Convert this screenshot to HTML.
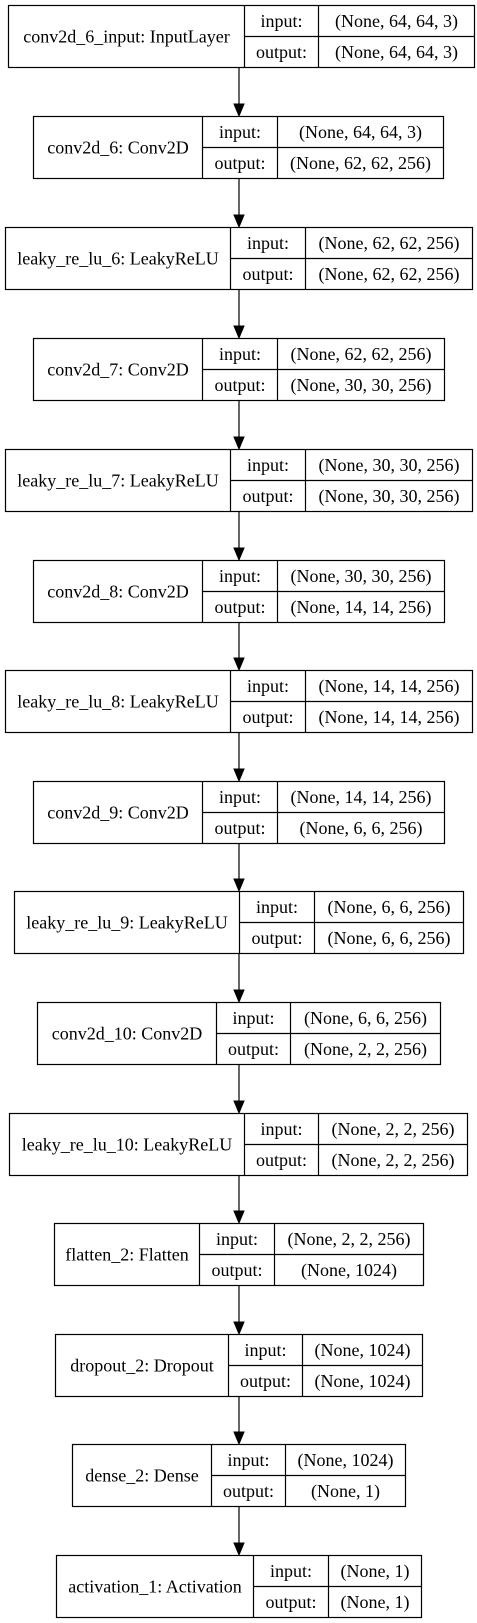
<!DOCTYPE html>
<html><head><meta charset="utf-8"><style>
html,body{margin:0;padding:0;background:#fff;}
svg{display:block;}
text{font-family:"Liberation Serif","Times New Roman",serif;font-size:18px;fill:#000;}
</style></head><body>
<svg id="g" width="477" height="1623" viewBox="0 0 477 1623"></svg>
<script>
const layerNames=["conv2d_6_input: InputLayer","conv2d_6: Conv2D","leaky_re_lu_6: LeakyReLU","conv2d_7: Conv2D","leaky_re_lu_7: LeakyReLU","conv2d_8: Conv2D","leaky_re_lu_8: LeakyReLU","conv2d_9: Conv2D","leaky_re_lu_9: LeakyReLU","conv2d_10: Conv2D","leaky_re_lu_10: LeakyReLU","flatten_2: Flatten","dropout_2: Dropout","dense_2: Dense","activation_1: Activation"];
const inputShapes=["(None, 64, 64, 3)","(None, 64, 64, 3)","(None, 62, 62, 256)","(None, 62, 62, 256)","(None, 30, 30, 256)","(None, 30, 30, 256)","(None, 14, 14, 256)","(None, 14, 14, 256)","(None, 6, 6, 256)","(None, 6, 6, 256)","(None, 2, 2, 256)","(None, 2, 2, 256)","(None, 1024)","(None, 1024)","(None, 1)"];
const outputShapes=["(None, 64, 64, 3)","(None, 62, 62, 256)","(None, 62, 62, 256)","(None, 30, 30, 256)","(None, 30, 30, 256)","(None, 14, 14, 256)","(None, 14, 14, 256)","(None, 6, 6, 256)","(None, 6, 6, 256)","(None, 2, 2, 256)","(None, 2, 2, 256)","(None, 1024)","(None, 1024)","(None, 1)","(None, 1)"];
// layout (pixels)
const boxTop=[5,116,227,338,449,560,670,781,891,1002,1113,1223,1334,1444,1555];
const boxLeft=[8,33,5,33,5,33,5,33,14,37,9,54,55,72,56];
const boxRight=[474,443,472,444,472,444,472,444,463,440,467,423,422,405,421];
const div1=[244,202,230,202,230,202,230,202,239,216,244,199,228,211,253];
const div2=[318,277,305,277,305,277,305,277,314,290,318,274,302,285,328];
const H=62, AX=239;
const svg=document.getElementById('g');
const NS='http://www.w3.org/2000/svg';
function mk(tag,attrs){const e=document.createElementNS(NS,tag);for(const k in attrs)e.setAttribute(k,attrs[k]);return e;}
function txt(parent,x,y,s){const t=mk('text',{x:x,y:y,'text-anchor':'middle','dominant-baseline':'central'});t.textContent=s;parent.appendChild(t);return t;}
for(let i=0;i<layerNames.length;i++){
  const g=mk('g',{});
  
  
  const x0=boxLeft[i]+0.5,x1=boxRight[i]+0.5,y0=boxTop[i]+0.5,y1=y0+H,ym=y0+H/2,d1=div1[i]+0.5,d2=div2[i]+0.5;
  g.appendChild(mk('rect',{x:x0,y:y0,width:x1-x0,height:H,fill:'#fff',stroke:'#000','stroke-width':1.2}));
  g.appendChild(mk('line',{x1:d1,y1:y0,x2:d1,y2:y1,stroke:'#000','stroke-width':1.2}));
  g.appendChild(mk('line',{x1:d2,y1:y0,x2:d2,y2:y1,stroke:'#000','stroke-width':1.2}));
  g.appendChild(mk('line',{x1:d1,y1:ym,x2:x1,y2:ym,stroke:'#000','stroke-width':1.2}));
  const l=txt(g,(x0+d1)/2,ym,layerNames[i]);
  
  
  const a=txt(g,(d1+d2)/2,y0+H/4,'input:');
  
  
  const b=txt(g,(d1+d2)/2,y0+3*H/4,'output:');
  
  
  const c=txt(g,(d2+x1)/2,y0+H/4,inputShapes[i]);
  
  
  const e=txt(g,(d2+x1)/2,y0+3*H/4,outputShapes[i]);
  
  
  svg.appendChild(g);
  if(i<layerNames.length-1){
    const ar=mk('g',{});
    
    
    const ys=y1, ye=boxTop[i+1];
    ar.appendChild(mk('line',{x1:AX,y1:ys,x2:AX,y2:ye-11,stroke:'#000','stroke-width':1.2}));
    ar.appendChild(mk('polygon',{points:(AX-5)+','+(ye-12)+' '+(AX+5)+','+(ye-12)+' '+AX+','+ye,fill:'#000',stroke:'#000'}));
    svg.appendChild(ar);
  }
}
</script>
</body></html>
